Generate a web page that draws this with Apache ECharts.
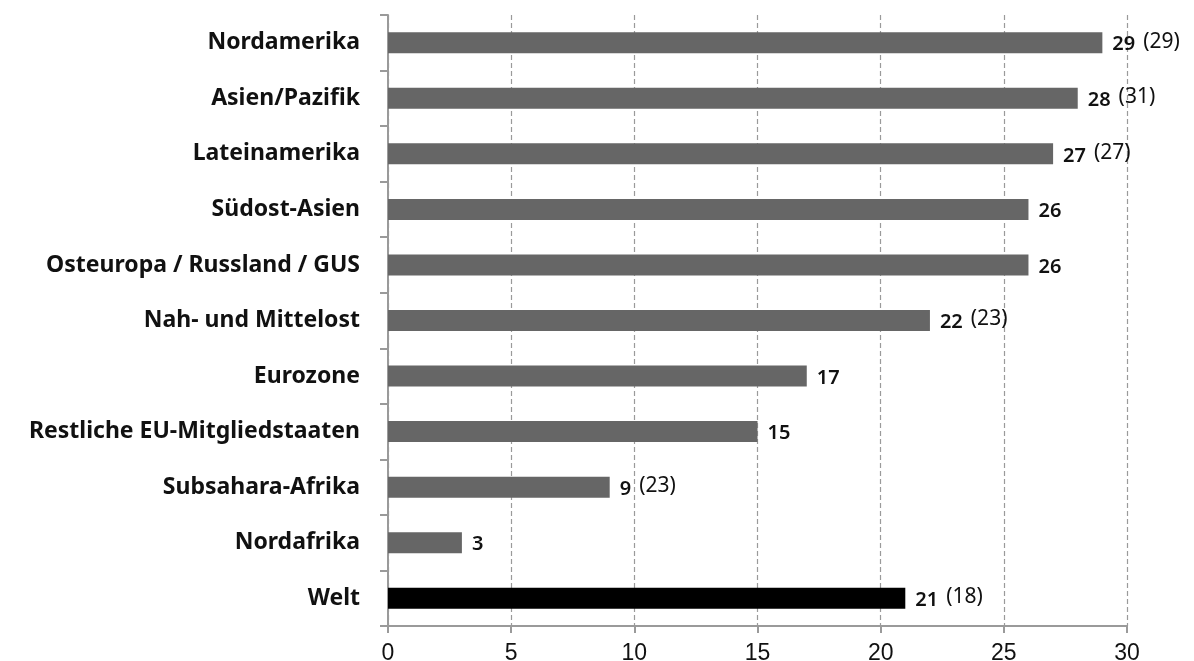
<!DOCTYPE html>
<html>
<head>
<meta charset="utf-8">
<script src="https://cdn.jsdelivr.net/npm/echarts@6/dist/echarts.min.js"></script>
<style>
  html, body { margin: 0; padding: 0; background: #fff; }
  #chart { width: 1194px; height: 661px; }
</style>
</head>
<body>
<div id="chart"></div>
<script>
// Regions, top to bottom
const regions = [
  'Nordamerika', 'Asien/Pazifik', 'Lateinamerika', 'Südost-Asien',
  'Osteuropa / Russland / GUS', 'Nah- und Mittelost', 'Eurozone',
  'Restliche EU-Mitgliedstaaten', 'Subsahara-Afrika', 'Nordafrika', 'Welt'
];
// Current values
const currentValues = [29, 28, 27, 26, 26, 22, 17, 15, 9, 3, 21];
// Previous values shown in parentheses (null = none)
const previousValues = [29, 31, 27, null, null, 23, null, null, 23, null, 18];
// Value axis ticks
const axisMin = 0, axisMax = 30, axisStep = 5;

const BAR_GREY = '#666666';
const BAR_TOTAL = '#000000';
const AXIS_GREY = '#9a9a9a';

const chart = echarts.init(document.getElementById('chart'), null, { renderer: 'canvas' });

const barData = currentValues.map((v, i) => ({
  value: v,
  itemStyle: { color: regions[i] === 'Welt' ? BAR_TOTAL : BAR_GREY }
}));

chart.setOption({
  animation: false,
  backgroundColor: '#ffffff',
  grid: { left: 388, right: 67, top: 15, bottom: 35, containLabel: false, outerBoundsMode: 'none' },
  xAxis: {
    type: 'value',
    min: axisMin,
    max: axisMax,
    interval: axisStep,
    axisLine: { show: true, lineStyle: { color: AXIS_GREY, width: 2 } },
    axisTick: { show: true, length: 7, lineStyle: { color: AXIS_GREY, width: 2 } },
    axisLabel: {
      margin: 16,
      color: '#111',
      fontSize: 23,
      fontFamily: '"Liberation Sans", "DejaVu Sans", sans-serif'
    },
    splitLine: { show: true, lineStyle: { color: AXIS_GREY, type: [5, 3], width: 1.2 } }
  },
  yAxis: {
    type: 'category',
    data: regions,
    inverse: true,
    axisLine: { show: true, lineStyle: { color: AXIS_GREY, width: 2 } },
    axisTick: { show: true, length: 8, lineStyle: { color: AXIS_GREY, width: 2 } },
    axisLabel: {
      margin: 28,
      color: '#111',
      fontSize: 23,
      fontWeight: 'bold',
      fontFamily: '"Noto Sans", "Open Sans", sans-serif'
    },
    splitLine: { show: false }
  },
  series: [{
    type: 'bar',
    data: barData,
    barWidth: 21,
    label: {
      show: true,
      position: 'right',
      distance: 10,
      formatter: (p) => {
        const prev = previousValues[p.dataIndex];
        let s = '{v|' + currentValues[p.dataIndex] + '}';
        if (prev !== null) s += '{g|}{p|(' + prev + ')}';
        return s;
      },
      rich: {
        v: { fontSize: 20, fontWeight: 600, color: '#111', fontFamily: '"Noto Sans", sans-serif', padding: [4, 0, 0, 0] },
        g: { width: 8 },
        p: { fontSize: 21, color: '#111', fontFamily: '"Noto Sans", sans-serif', padding: [0, 0, 2, 0] }
      }
    }
  }]
});
</script>
</body>
</html>
